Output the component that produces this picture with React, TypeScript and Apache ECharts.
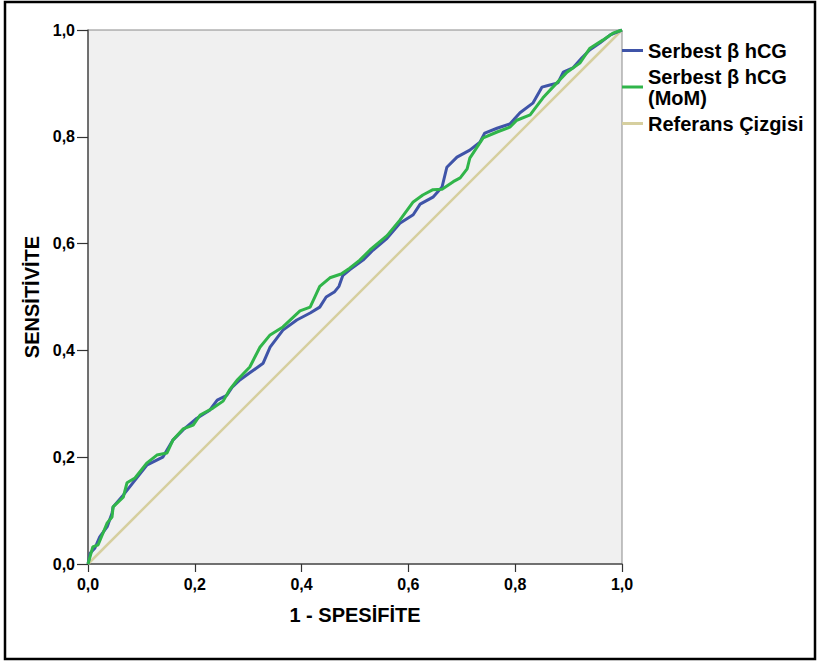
import React, { useEffect, useRef } from "react";
import * as echarts from "echarts";

const tickValues = [0, 0.2, 0.4, 0.6, 0.8, 1.0];
const seriesNames = ["Serbest β hCG", "Serbest β hCG (MoM)", "Referans Çizgisi"];

const freeBhcg: [number, number][] = [
  [0, 0], [0.004, 0.02], [0.013, 0.03], [0.022, 0.051], [0.036, 0.07], [0.045, 0.095], [0.047, 0.107],
  [0.066, 0.129], [0.084, 0.152], [0.11, 0.185], [0.14, 0.2], [0.159, 0.232], [0.178, 0.251],
  [0.204, 0.273], [0.228, 0.288], [0.242, 0.307], [0.26, 0.316], [0.27, 0.331], [0.285, 0.345],
  [0.303, 0.358], [0.328, 0.376], [0.341, 0.406], [0.365, 0.438], [0.391, 0.457], [0.416, 0.47],
  [0.434, 0.481], [0.446, 0.5], [0.462, 0.51], [0.47, 0.52], [0.477, 0.54], [0.49, 0.551],
  [0.515, 0.569], [0.534, 0.588], [0.56, 0.61], [0.584, 0.638], [0.609, 0.654], [0.622, 0.674],
  [0.646, 0.687], [0.663, 0.706], [0.672, 0.743], [0.691, 0.762], [0.715, 0.775], [0.734, 0.79],
  [0.743, 0.807], [0.766, 0.816], [0.79, 0.824], [0.809, 0.845], [0.833, 0.863], [0.85, 0.893],
  [0.865, 0.897], [0.88, 0.901], [0.89, 0.921], [0.908, 0.929], [0.925, 0.948], [0.94, 0.963],
  [0.959, 0.976], [0.978, 0.991], [1, 1],
];

const freeBhcgMoM: [number, number][] = [
  [0, 0], [0.009, 0.032], [0.019, 0.036], [0.036, 0.077], [0.045, 0.088], [0.047, 0.107],
  [0.066, 0.125], [0.073, 0.152], [0.088, 0.161], [0.11, 0.189], [0.129, 0.204], [0.148, 0.208],
  [0.159, 0.232], [0.178, 0.253], [0.197, 0.26], [0.21, 0.279], [0.234, 0.292], [0.253, 0.305],
  [0.265, 0.326], [0.28, 0.345], [0.303, 0.369], [0.322, 0.406], [0.341, 0.429], [0.365, 0.444],
  [0.397, 0.474], [0.416, 0.481], [0.434, 0.52], [0.453, 0.536], [0.474, 0.543], [0.49, 0.554],
  [0.509, 0.569], [0.528, 0.588], [0.56, 0.615], [0.584, 0.644], [0.609, 0.678], [0.627, 0.691],
  [0.646, 0.701], [0.663, 0.702], [0.684, 0.716], [0.697, 0.723], [0.71, 0.74], [0.715, 0.76],
  [0.74, 0.798], [0.766, 0.809], [0.79, 0.818], [0.803, 0.831], [0.828, 0.841], [0.852, 0.873],
  [0.878, 0.901], [0.897, 0.921], [0.921, 0.938], [0.94, 0.966], [0.964, 0.981], [0.983, 0.994],
  [1, 1],
];

const referenceLine: [number, number][] = [[0, 0], [1, 1]];

const FONT = "'Liberation Sans', Arial, sans-serif";
const fmt = (v: number) => v.toFixed(1).replace(".", ",");

export default function App() {
  const ref = useRef<HTMLDivElement>(null);
  useEffect(() => {
    if (!ref.current) return;
    const chart = echarts.init(ref.current, null, { renderer: "svg" });
    chart.setOption({
      animation: false,
      backgroundColor: "#ffffff",
      textStyle: { fontFamily: FONT },
      grid: {
        left: 88, top: 30, width: 534, height: 534,
        show: true, backgroundColor: "#f0f0f0", borderColor: "#8a8a8a", borderWidth: 1,
      },
      legend: {
        orient: "vertical",
        left: 622,
        top: 40,
        padding: 0,
        itemWidth: 21,
        itemHeight: 3,
        itemGap: 5,
        icon: "rect",
        data: seriesNames,
        formatter: (name: string) => (name === seriesNames[1] ? "Serbest β hCG\n(MoM)" : name),
        textStyle: { fontFamily: FONT, fontWeight: "bold", fontSize: 20, color: "#000", lineHeight: 21 },
      },
      xAxis: {
        type: "value", min: 0, max: 1, interval: 0.2,
        name: "1 - SPESİFİTE", nameLocation: "middle", nameGap: 41,
        nameTextStyle: { fontFamily: FONT, fontWeight: "bold", fontSize: 20, color: "#000" },
        axisLine: { show: true, lineStyle: { color: "#555", width: 1.5 } },
        axisTick: { show: true, length: 8, lineStyle: { color: "#333", width: 1.2 } },
        axisLabel: { formatter: fmt, margin: 12, fontFamily: FONT, fontWeight: "bold", fontSize: 16, color: "#000" },
        splitLine: { show: false },
      },
      yAxis: {
        type: "value", min: 0, max: 1, interval: 0.2,
        name: "SENSİTİVİTE", nameLocation: "middle", nameGap: 42, nameRotate: 90,
        nameTextStyle: { fontFamily: FONT, fontWeight: "bold", fontSize: 20, color: "#000" },
        axisLine: { show: true, lineStyle: { color: "#555", width: 1.5 } },
        axisTick: { show: true, length: 11, lineStyle: { color: "#333", width: 1.2 } },
        axisLabel: { formatter: fmt, margin: 13, fontFamily: FONT, fontWeight: "bold", fontSize: 16, color: "#000" },
        splitLine: { show: false },
      },
      graphic: [
        {
          type: "rect",
          shape: { x: 5, y: 2, width: 810, height: 657 },
          style: { fill: "none", stroke: "#000", lineWidth: 2.5 },
          z: 100,
        },
      ],
      series: [
        {
          name: seriesNames[2], type: "line", data: referenceLine, symbol: "none",
          lineStyle: { color: "#d6cf9f", width: 2.5 }, itemStyle: { color: "#d6cf9f" }, z: 1,
        },
        {
          name: seriesNames[0], type: "line", data: freeBhcg, symbol: "none",
          lineStyle: { color: "#3f54a8", width: 3 }, itemStyle: { color: "#3f54a8" }, z: 2,
        },
        {
          name: seriesNames[1], type: "line", data: freeBhcgMoM, symbol: "none",
          lineStyle: { color: "#30b54a", width: 3 }, itemStyle: { color: "#30b54a" }, z: 3,
        },
      ],
    });
    return () => chart.dispose();
  }, []);
  return (
    <div
      ref={ref}
      style={{ position: "fixed", left: 0, top: 0, width: 817, height: 663 }}
    />
  );
}
